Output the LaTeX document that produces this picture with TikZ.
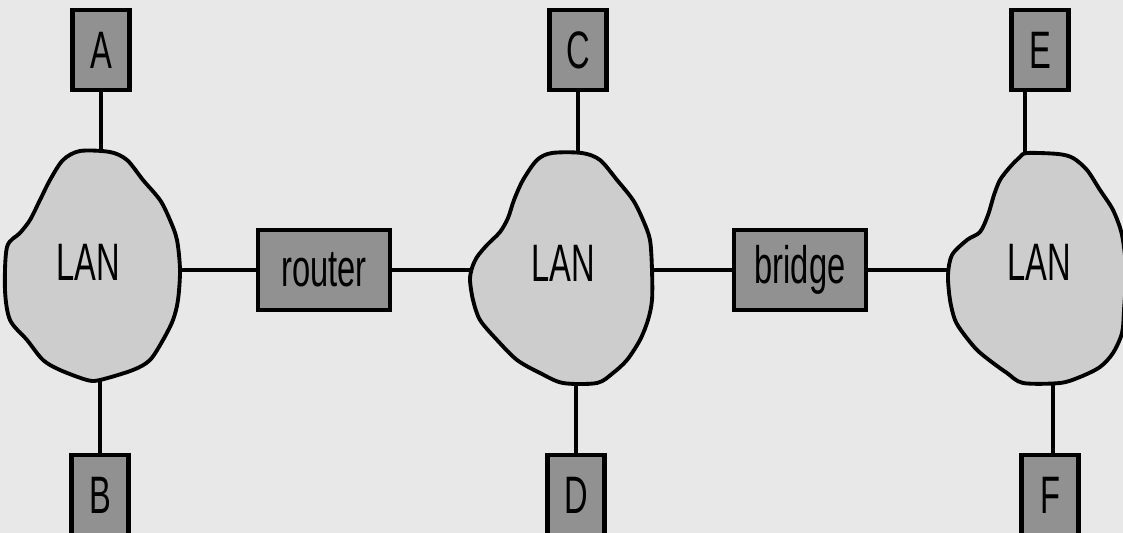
\documentclass[tikz,border=0pt]{standalone}
\usepackage{fontspec}
\setmainfont{Liberation Sans}
\newfontfamily\pixfont[FakeStretch=0.62]{Liberation Sans}
\usepackage{tikz}
\usetikzlibrary{positioning}

\definecolor{bggray}{HTML}{E8E8E8}
\definecolor{langray}{HTML}{CDCDCD}
\definecolor{boxgray}{HTML}{919191}

\tikzset{
  lanblob/.style={draw, line width=2.2pt, fill=langray, line join=round},
  lantext/.style={font=\pixfont\fontsize{30}{30}\selectfont, inner sep=0pt},
  device/.style={draw, line width=2.8pt, fill=boxgray, minimum width=1.14cm,
    minimum height=1.6cm, inner sep=0pt, font=\pixfont\fontsize{30}{30}\selectfont},
  relay/.style={device, minimum width=2.64cm},
  wire/.style={line width=2.2pt}
}

\begin{document}
\begin{tikzpicture}[x=0.02cm, y=-0.02cm]

  % Canvas
  \fill[bggray] (0,0) rectangle (1123,533);
  \clip (0,0) rectangle (1123,533);

  % LAN clouds
  \draw[lanblob] plot[smooth cycle] coordinates {(80,151) (110,152) (127,160) (143,180)
    (160,200) (170,220) (177,240) (180,270) (178,300) (173,320) (163,340) (150,360)
    (133,370) (100,380) (87,380) (60,370) (43,360) (27,340) (10,320) (5,290) (7,247)
    (20,233) (30,220) (40,200) (50,180) (63,160)};
  \draw[lanblob] plot[smooth cycle] coordinates {(552,153) (582,153) (600,160) (617,180)
    (633,200) (643,220) (650,240) (652,270) (652,300) (648,320) (640,340) (627,360)
    (613,373) (597,383) (563,383) (540,373) (517,360) (497,340) (480,320) (473,300)
    (470,280) (472,268) (477,257) (487,245) (500,232) (508,218) (514,200) (523,180)
    (537,160)};
  \draw[lanblob] plot[smooth cycle] coordinates {(1027,153) (1058,154) (1073,158)
    (1087,170) (1100,190) (1113,210) (1122,235) (1126,270) (1124,310) (1122,333)
    (1113,353) (1100,367) (1080,377) (1060,383) (1023,383) (1007,373) (993,363)
    (977,350) (963,333) (955,320) (950,300) (948,275) (952,255) (967,240) (980,232)
    (988,215) (994,195) (1000,180) (1010,167) (1020,157)};

  % Ports on the clouds
  \coordinate (lan1n) at (101,152);
  \coordinate (lan1s) at (100,380);
  \coordinate (lan1e) at (180,270);
  \coordinate (lan2w) at (470,270);
  \coordinate (lan2n) at (578,153);
  \coordinate (lan2s) at (576,383);
  \coordinate (lan2e) at (652,270);
  \coordinate (lan3w) at (948,270);
  \coordinate (lan3n) at (1025,153);
  \coordinate (lan3s) at (1053,383);

  % Define nodes
  \node[lantext] (lan1) at (88,262) {LAN};
  \node[lantext] (lan2) at (563,263) {LAN};
  \node[lantext] (lan3) at (1039,262) {LAN};
  \node[device] (A) at (101,50) {A};
  \node[device] (B) at (100,495) {B};
  \node[device] (C) at (578,50) {C};
  \node[device] (D) at (576,495) {D};
  \node[device] (E) at (1040,50) {E};
  \node[device] (F) at (1050,495) {F};
  \node[relay] (router) at (324,270) {router};
  \node[relay] (bridge) at (800,270) {bridge};

  % Connect nodes
  \draw[wire] (A.south) -- (lan1n);
  \draw[wire] (lan1s) -- (B.north);
  \draw[wire] (lan1e) -- (router.west);
  \draw[wire] (router.east) -- (lan2w);
  \draw[wire] (C.south) -- (lan2n);
  \draw[wire] (lan2s) -- (D.north);
  \draw[wire] (lan2e) -- (bridge.west);
  \draw[wire] (bridge.east) -- (lan3w);
  \draw[wire] (lan3n) -- (lan3n |- E.south);
  \draw[wire] (lan3s) -- (lan3s |- F.north);

\end{tikzpicture}
\end{document}
